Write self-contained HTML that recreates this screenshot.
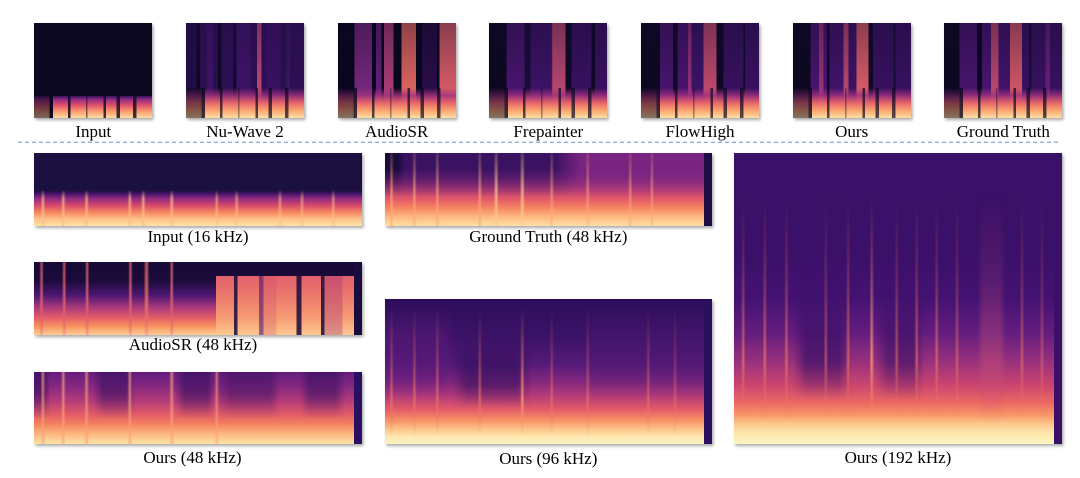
<!DOCTYPE html>
<html><head><meta charset="utf-8">
<style>
html,body{margin:0;padding:0;background:#fff;}
body{width:1080px;height:478px;position:relative;overflow:hidden;font-family:"Liberation Serif","DejaVu Serif",serif;}
.p{position:absolute;overflow:hidden;box-shadow:1.5px 2px 3px rgba(0,0,0,.35);}
.p>div{position:absolute;left:0;top:0;width:100%;height:100%;}
.l{position:absolute;font-size:17px;line-height:17px;color:#000;white-space:nowrap;text-align:center;width:300px;}
.t{top:23.3px;height:95px;width:118px;}
.mt{-webkit-mask-image:linear-gradient(to bottom,rgba(0,0,0,.6),#000 80%);mask-image:linear-gradient(to bottom,rgba(0,0,0,.6),#000 80%);}
.band{top:68% !important;height:32% !important;
background:
linear-gradient(to right,rgba(12,8,32,.5) 0 13%,rgba(12,8,32,.8) 13% 16%,transparent 16% 29%,rgba(12,8,32,.7) 29% 31%,transparent 31% 44%,rgba(12,8,32,.4) 44% 45.5%,transparent 45.5% 59%,rgba(12,8,32,.7) 59% 61%,transparent 61% 70%,rgba(12,8,32,.7) 70% 73%,transparent 73% 84%,rgba(12,8,32,.7) 84% 87%,transparent 87%),
linear-gradient(to bottom,rgba(120,34,129,0) 0%,rgba(160,50,125,.85) 25%,#e8666a 50%,#fca872 76%,#fde0a4 100%);}
.rs{left:97.7% !important;width:2.4% !important;}
</style></head><body>

<!-- Top thumbnails -->
<div class="p t" style="left:34.3px;background:#0c0820;">
  <div style="top:77%;height:23%;background:
  linear-gradient(to right,rgba(12,8,32,.55) 0 13%,#0c0820 13% 16%,transparent 16% 29%,rgba(12,8,32,.85) 29% 31%,transparent 31% 44%,rgba(12,8,32,.5) 44% 45.5%,transparent 45.5% 59%,rgba(12,8,32,.8) 59% 61%,transparent 61% 70%,rgba(12,8,32,.8) 70% 73%,transparent 73% 84%,rgba(12,8,32,.8) 84% 87%,transparent 87%),
  linear-gradient(to bottom,#3a1060 0%,#9a3080 18%,#e0506a 42%,#fca070 72%,#fddca2 100%);"></div>
</div>
<div class="p t" style="left:186px;background:#220d46;">
  <div class="mt" style="background:linear-gradient(to right,#220d46 0 9%,#0c0820 9% 12%,#2e1054 12% 18%,#3e1466 18% 23%,#28104e 23% 27%,#0c0820 27% 30%,#2e1054 30% 40%,#14092e 40% 43%,#3e1466 43% 55%,#2e1054 55% 60%,#c04a72 60% 64%,#2e1054 64% 68%,#3a1262 68% 80%,#28104e 80% 85%,#3e1466 85% 88%,#2e1054 88% 100%);"></div>
  <div class="band"></div>
</div>
<div class="p t" style="left:337.7px;background:#0a0720;">
  <div class="mt" style="background:linear-gradient(to right,#0a0720 0 14%,#7a2a80 14% 29%,#0a0720 29% 32%,#6a2080 32% 37%,#0a0720 37% 39%,#b2407a 39% 47%,#0a0720 47% 54%,#e86a64 54% 66%,#0a0720 66% 71%,#2a0e48 71% 84%,#0a0720 84% 86%,#e0606a 86% 100%);"></div>
  <div class="band"></div>
</div>
<div class="p t" style="left:489.3px;background:#120a2c;">
  <div class="mt" style="background:linear-gradient(to right,#0c0820 0 15%,#4a1670 15% 30%,#1a0c3a 30% 35%,#3e1468 35% 53%,#c04a72 54% 65%,#0f0826 65% 70%,#3a1262 70% 87%,#0f0826 87% 90%,#3a1262 90% 100%);"></div>
  <div class="band"></div>
</div>
<div class="p t" style="left:641px;background:#120a2c;">
  <div class="mt" style="background:linear-gradient(to right,#0c0820 0 16%,#4a1670 16% 27%,#0f0826 27% 31%,#4a1670 31% 40%,#9a3080 40% 43%,#3e1468 43% 53%,#c84c70 53% 64%,#0f0826 64% 70%,#3a1262 70% 87%,#0f0826 87% 88%,#3a1262 88% 100%);"></div>
  <div class="band"></div>
</div>
<div class="p t" style="left:792.7px;background:#120a2c;">
  <div class="mt" style="background:linear-gradient(to right,#0c0820 0 15%,#4a1670 15% 22%,#a0347c 22% 26%,#4a1670 26% 29%,#0f0826 29% 31%,#44146c 31% 43%,#c04a72 43% 47%,#3e1468 47% 54%,#e0606a 54% 64%,#0f0826 64% 68%,#3a1262 68% 85%,#1a0c3a 85% 87%,#3a1262 87% 100%);"></div>
  <div class="band"></div>
</div>
<div class="p t" style="left:944.3px;background:#120a2c;">
  <div class="mt" style="background:linear-gradient(to right,#0c0820 0 13%,#4a1670 13% 28%,#0a0620 28% 32%,#4a1670 32% 40%,#c04a72 40% 46%,#44146c 46% 56%,#d85a6a 56% 66%,#3a1262 66% 72%,#1a0c3a 72% 74%,#3a1262 74% 86%,#6a2080 86% 90%,#3a1262 90% 100%);"></div>
  <div class="band"></div>
</div>

<div class="l" style="left:-56.7px;top:123.3px;">Input</div>
<div class="l" style="left:95px;top:123.3px;">Nu-Wave 2</div>
<div class="l" style="left:246.7px;top:123.3px;">AudioSR</div>
<div class="l" style="left:398.3px;top:123.3px;">Frepainter</div>
<div class="l" style="left:550px;top:123.3px;">FlowHigh</div>
<div class="l" style="left:701.7px;top:123.3px;">Ours</div>
<div class="l" style="left:853.3px;top:123.3px;">Ground Truth</div>

<svg style="position:absolute;left:0;top:0" width="1080" height="478">
  <line x1="18" y1="142.3" x2="1058" y2="142.3" stroke="#8fb0de" stroke-width="1.3" stroke-dasharray="4 3"/>
</svg>

<!-- Input 16 kHz -->
<div class="p" style="left:34.3px;top:153.3px;width:327.4px;height:72.7px;background:linear-gradient(to bottom,#1b1040 0%,#1b1040 51%,#3a1062 55%,#8c2981 62%,#d84a6a 72%,#f88a62 82%,#fdbf88 90%,#fde3a8 100%);">
  <div style="background:linear-gradient(to right,transparent 2%,rgba(253,190,130,.75) 2.7%,transparent 3.5%,transparent 8.2%,rgba(253,190,130,.75) 8.9%,transparent 9.7%,transparent 15.3%,rgba(253,190,130,.75) 16%,transparent 16.8%,transparent 28.5%,rgba(253,190,130,.75) 29.2%,transparent 30%,transparent 32.5%,rgba(253,190,130,.75) 33.3%,transparent 34.1%,transparent 41.2%,rgba(253,190,130,.75) 42%,transparent 42.8%,transparent 55%,rgba(253,190,130,.6) 55.7%,transparent 56.5%,transparent 61%,rgba(253,190,130,.6) 61.8%,transparent 62.6%,transparent 74.2%,rgba(253,190,130,.6) 75%,transparent 75.8%,transparent 81%,rgba(253,190,130,.6) 81.7%,transparent 82.5%,transparent 90.5%,rgba(253,190,130,.6) 91.2%,transparent 92%);-webkit-mask-image:linear-gradient(to bottom,transparent 50%,#000 62%,#000 100%);mask-image:linear-gradient(to bottom,transparent 50%,#000 62%,#000 100%);"></div>
</div>
<div class="l" style="left:48px;top:228px;">Input (16 kHz)</div>

<!-- AudioSR 48 kHz -->
<div class="p" style="left:34.3px;top:262.3px;width:327.4px;height:72.7px;background:linear-gradient(to bottom,#170a36 0%,#1a0b3a 25%,#4a1670 45%,#a8387b 62%,#e25c68 76%,#f8925f 88%,#fdcf96 100%);">
  <div style="background:linear-gradient(to right,transparent 1.6%,#e0606c 2.3%,transparent 3%,transparent 8.5%,#e0606c 9.2%,transparent 9.9%,transparent 15.5%,#e0606c 16.2%,transparent 16.9%,transparent 28.7%,#e0606c 29.4%,transparent 30.1%,transparent 33.4%,#e8706a 34.3%,transparent 35.2%,transparent 41.3%,#e0606c 42%,transparent 42.7%);-webkit-mask-image:linear-gradient(to bottom,rgba(0,0,0,.8),#000 60%,rgba(0,0,0,.4) 100%);mask-image:linear-gradient(to bottom,rgba(0,0,0,.8),#000 60%,rgba(0,0,0,.4) 100%);"></div>
  <div style="left:55.5%;width:42.3%;top:19%;height:81%;background:
  linear-gradient(to right,transparent 0 13%,rgba(26,11,58,.85) 13% 15.5%,transparent 15.5% 31%,rgba(80,20,110,.6) 31% 34.5%,rgba(200,70,110,.25) 34.5% 44%,transparent 44% 58.3%,rgba(26,11,58,.85) 58.3% 62%,transparent 62% 76%,rgba(26,11,58,.85) 76% 78.6%,rgba(160,50,120,.35) 78.6% 91.7%,transparent 91.7%),
  linear-gradient(to bottom,#e0606c 0%,#ec7a6c 35%,#f59a72 70%,#fdc890 100%);"></div>
  <div class="rs" style="background:#1a0c3c;"></div>
</div>
<div class="l" style="left:43px;top:335.8px;">AudioSR (48 kHz)</div>

<!-- Ours 48 kHz -->
<div class="p" style="left:34.3px;top:371.7px;width:327.4px;height:72.6px;background:linear-gradient(to bottom,#651d7e 0%,#862880 20%,#b43b78 40%,#e05a68 58%,#f4805f 72%,#fcb07a 84%,#fde4a8 100%);">
  <div style="background:linear-gradient(to right,rgba(50,14,94,.6) 0 3%,transparent 5% 18%,rgba(50,14,94,.55) 21% 28%,transparent 31% 43%,rgba(50,14,94,.6) 46% 53%,transparent 55%,rgba(50,14,94,.45) 60% 72%,transparent 75% 81%,rgba(50,14,94,.5) 84% 92%,transparent 95%);-webkit-mask-image:linear-gradient(to bottom,#000 0%,#000 30%,transparent 65%);mask-image:linear-gradient(to bottom,#000 0%,#000 30%,transparent 65%);"></div>
  <div style="background:linear-gradient(to right,transparent 2%,rgba(250,160,120,.7) 2.7%,transparent 3.5%,transparent 8.2%,rgba(250,160,120,.7) 8.9%,transparent 9.7%,transparent 15.3%,rgba(250,160,120,.7) 16%,transparent 16.8%,transparent 28.5%,rgba(250,160,120,.7) 29.2%,transparent 30%,transparent 41.2%,rgba(250,160,120,.7) 42%,transparent 42.8%,transparent 55%,rgba(250,160,120,.6) 55.7%,transparent 56.5%);"></div>
  <div class="rs" style="background:#2a1060;"></div>
</div>
<div class="l" style="left:42.5px;top:449px;">Ours (48 kHz)</div>

<!-- Ground Truth 48 kHz -->
<div class="p" style="left:385px;top:153.3px;width:326.7px;height:72.7px;background:linear-gradient(to bottom,#4a1670 0%,#7a2481 25%,#b03a7a 45%,#e0566a 62%,#f68460 75%,#fcb47c 86%,#fde0a4 100%);">
  <div style="background:linear-gradient(to right,#1a0a3a 0 4%,#3a1262 6% 52%,#7a2481 60% 97%);-webkit-mask-image:linear-gradient(to bottom,#000 0%,#000 20%,transparent 60%);mask-image:linear-gradient(to bottom,#000 0%,#000 20%,transparent 60%);"></div>
  <div style="background:linear-gradient(to right,transparent 1.3%,rgba(250,170,120,.7) 2%,transparent 2.7%,transparent 8.3%,rgba(250,170,120,.7) 9%,transparent 9.7%,transparent 15.3%,rgba(250,170,120,.7) 16%,transparent 16.7%,transparent 28.3%,rgba(250,170,120,.7) 29%,transparent 29.7%,transparent 33.2%,rgba(253,200,140,.8) 34%,transparent 34.8%,transparent 41.2%,rgba(253,200,140,.8) 42%,transparent 42.8%,transparent 50.3%,rgba(250,170,120,.6) 51%,transparent 51.7%,transparent 61.3%,rgba(250,170,120,.6) 62%,transparent 62.7%,transparent 74.3%,rgba(250,170,120,.6) 75%,transparent 75.7%,transparent 81%,rgba(250,170,120,.6) 81.6%,transparent 82.3%);-webkit-mask-image:linear-gradient(to bottom,rgba(0,0,0,.3),#000 50%,#000 100%);mask-image:linear-gradient(to bottom,rgba(0,0,0,.3),#000 50%,#000 100%);"></div>
  <div class="rs" style="background:#1e0c44;"></div>
</div>
<div class="l" style="left:398.3px;top:228px;">Ground Truth (48 kHz)</div>

<!-- Ours 96 kHz -->
<div class="p" style="left:385px;top:299px;width:326.7px;height:145.3px;background:linear-gradient(to bottom,#2e0e5c 0%,#3a1266 25%,#561a78 45%,#84287f 57%,#b83c79 67%,#e25a68 76%,#f89466 84%,#fdc68c 90%,#fde6ae 95%,#fcf5c0 100%);">
  <div style="background:linear-gradient(to right,rgba(90,26,122,.55) 0 18%,transparent 22% 60%,rgba(80,24,116,.4) 64% 97%);-webkit-mask-image:linear-gradient(to bottom,transparent 5%,#000 25%,#000 50%,transparent 70%);mask-image:linear-gradient(to bottom,transparent 5%,#000 25%,#000 50%,transparent 70%);"></div>
  <div style="background:linear-gradient(to right,transparent 0 20%,rgba(40,12,86,.5) 25% 40%,transparent 45%);-webkit-mask-image:linear-gradient(to bottom,transparent 25%,#000 45%,#000 60%,transparent 75%);mask-image:linear-gradient(to bottom,transparent 25%,#000 45%,#000 60%,transparent 75%);"></div>
  <div style="background:linear-gradient(to right,transparent 1.3%,rgba(240,120,100,.7) 2%,transparent 2.7%,transparent 8.3%,rgba(240,120,100,.7) 9%,transparent 9.7%,transparent 15.3%,rgba(240,120,100,.7) 16%,transparent 16.7%,transparent 28.3%,rgba(240,120,100,.7) 29%,transparent 29.7%,transparent 41.3%,rgba(250,150,110,.95) 42%,transparent 42.7%,transparent 50.3%,rgba(240,120,100,.6) 51%,transparent 51.7%,transparent 61.3%,rgba(240,120,100,.6) 62%,transparent 62.7%,transparent 79.8%,rgba(240,120,100,.6) 80.5%,transparent 81.2%,transparent 88%,rgba(240,120,100,.5) 88.7%,transparent 89.4%);-webkit-mask-image:linear-gradient(to bottom,transparent 5%,rgba(0,0,0,.5) 40%,#000 70%,transparent 95%);mask-image:linear-gradient(to bottom,transparent 5%,rgba(0,0,0,.5) 40%,#000 70%,transparent 95%);"></div>
  <div class="rs" style="background:#2a0f5c;"></div>
</div>
<div class="l" style="left:398.3px;top:449.5px;">Ours (96 kHz)</div>

<!-- Ours 192 kHz -->
<div class="p" style="left:734.3px;top:153.3px;width:327.4px;height:291px;background:linear-gradient(to bottom,#3b1068 0%,#3b1068 35%,#441272 50%,#641d7e 62%,#9a317c 72%,#cc466f 80%,#ec6a62 86%,#f89666 90%,#fdc68c 93%,#fde4aa 96%,#fcf6c2 100%);">
  <div style="background:linear-gradient(to right,transparent 0 18%,rgba(59,16,104,.7) 22% 32%,transparent 36% 43%,rgba(59,16,104,.6) 47% 55%,transparent 58%);-webkit-mask-image:linear-gradient(to bottom,transparent 40%,#000 60%,#000 72%,transparent 85%);mask-image:linear-gradient(to bottom,transparent 40%,#000 60%,#000 72%,transparent 85%);"></div>
  <div style="background:linear-gradient(to right,transparent 2.1%,rgba(240,120,100,.75) 2.8%,transparent 3.5%,transparent 8.7%,rgba(240,120,100,.75) 9.4%,transparent 10.1%,transparent 15.3%,rgba(240,120,100,.75) 16%,transparent 16.7%,transparent 27.3%,rgba(240,120,100,.6) 28%,transparent 28.7%,transparent 34.1%,rgba(240,120,100,.75) 34.8%,transparent 35.5%,transparent 41.3%,rgba(250,150,110,.95) 42%,transparent 42.7%,transparent 48.9%,rgba(240,120,100,.6) 49.6%,transparent 50.3%,transparent 55%,rgba(240,120,100,.7) 55.7%,transparent 56.4%,transparent 61.1%,rgba(240,120,100,.7) 61.8%,transparent 62.5%,transparent 67.3%,rgba(240,120,100,.6) 68%,transparent 68.7%,transparent 74%,rgba(200,80,120,.45) 76%,rgba(200,80,120,.45) 81%,transparent 83%,transparent 87.1%,rgba(240,120,100,.6) 87.8%,transparent 88.5%,transparent 93.2%,rgba(240,120,100,.5) 93.9%,transparent 94.6%);-webkit-mask-image:linear-gradient(to bottom,transparent 15%,rgba(0,0,0,.35) 40%,#000 72%,transparent 92%);mask-image:linear-gradient(to bottom,transparent 15%,rgba(0,0,0,.35) 40%,#000 72%,transparent 92%);"></div>
  <div class="rs" style="background:#3b1068;"></div>
</div>
<div class="l" style="left:748px;top:449px;">Ours (192 kHz)</div>

</body></html>
